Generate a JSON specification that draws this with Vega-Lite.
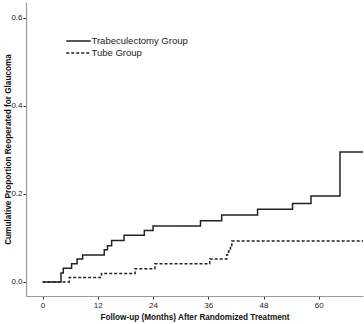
{
  "$schema": "https://vega.github.io/schema/vega-lite/v6.json",
  "width": 337,
  "height": 294,
  "autosize": {"type": "none"},
  "padding": {"left": 26, "top": 2, "right": 1, "bottom": 28},
  "background": "white",
  "config": {
    "view": {"stroke": null},
    "font": "Liberation Sans",
    "axis": {"grid": false, "domainColor": "#9a9a9a", "domainWidth": 1.2, "tickColor": "#333", "tickSize": 3, "labelFont": "Liberation Sans", "labelFontSize": 8, "labelColor": "#222", "titleFont": "Liberation Sans", "titleFontWeight": "bold", "titleFontSize": 8.2, "titleColor": "#111"}
  },
  "datasets": {
    "km": [
      {"month": 0, "prop": 0, "group": "Trabeculectomy Group"},
      {"month": 4.0, "prop": 0.02, "group": "Trabeculectomy Group"},
      {"month": 4.5, "prop": 0.031, "group": "Trabeculectomy Group"},
      {"month": 6.3, "prop": 0.041, "group": "Trabeculectomy Group"},
      {"month": 7.5, "prop": 0.052, "group": "Trabeculectomy Group"},
      {"month": 8.7, "prop": 0.061, "group": "Trabeculectomy Group"},
      {"month": 13.4, "prop": 0.073, "group": "Trabeculectomy Group"},
      {"month": 14.1, "prop": 0.082, "group": "Trabeculectomy Group"},
      {"month": 15.0, "prop": 0.094, "group": "Trabeculectomy Group"},
      {"month": 17.7, "prop": 0.106, "group": "Trabeculectomy Group"},
      {"month": 22.1, "prop": 0.117, "group": "Trabeculectomy Group"},
      {"month": 24.0, "prop": 0.127, "group": "Trabeculectomy Group"},
      {"month": 34.3, "prop": 0.139, "group": "Trabeculectomy Group"},
      {"month": 38.9, "prop": 0.152, "group": "Trabeculectomy Group"},
      {"month": 46.7, "prop": 0.165, "group": "Trabeculectomy Group"},
      {"month": 54.3, "prop": 0.178, "group": "Trabeculectomy Group"},
      {"month": 58.3, "prop": 0.195, "group": "Trabeculectomy Group"},
      {"month": 64.6, "prop": 0.295, "group": "Trabeculectomy Group"},
      {"month": 69.6, "prop": 0.295, "group": "Trabeculectomy Group"},
      {"month": 0, "prop": 0, "group": "Tube Group"},
      {"month": 5.8, "prop": 0.01, "group": "Tube Group"},
      {"month": 12.8, "prop": 0.019, "group": "Tube Group"},
      {"month": 20.1, "prop": 0.030, "group": "Tube Group"},
      {"month": 24.4, "prop": 0.041, "group": "Tube Group"},
      {"month": 36.3, "prop": 0.052, "group": "Tube Group"},
      {"month": 40.0, "prop": 0.062, "group": "Tube Group"},
      {"month": 40.4, "prop": 0.070, "group": "Tube Group"},
      {"month": 40.8, "prop": 0.078, "group": "Tube Group"},
      {"month": 41.1, "prop": 0.093, "group": "Tube Group"},
      {"month": 69.6, "prop": 0.093, "group": "Tube Group"}
    ]
  },
  "layer": [
    {
      "data": {"name": "km"},
      "mark": {"type": "line", "interpolate": "step-after", "color": "#222", "strokeWidth": 1.5},
      "encoding": {
        "x": {"field": "month", "type": "quantitative", "scale": {"domain": [-3.6, 69.6], "nice": false, "zero": false}, "axis": {"values": [0, 12, 24, 36, 48, 60], "title": "Follow-up (Months) After Randomized Treatment", "titlePadding": 4, "labelPadding": 2}},
        "y": {"field": "prop", "type": "quantitative", "scale": {"domain": [-0.032, 0.636], "nice": false, "zero": false}, "axis": {"values": [0, 0.2, 0.4, 0.6], "format": ".1f", "title": "Cumulative Proportion Reoperated for Glaucoma", "titleX": -14, "labelPadding": 1}},
        "strokeDash": {"field": "group", "type": "nominal", "scale": {"domain": ["Trabeculectomy Group", "Tube Group"], "range": [[1, 0], [3, 2]]}, "legend": {"orient": "none", "legendX": 45.5, "legendY": 32, "title": null, "padding": 0, "symbolType": "M-2,0H2", "symbolSize": 150, "symbolStrokeColor": "#222", "symbolStrokeWidth": 1.5, "labelFontSize": 9.5, "labelFont": "Liberation Sans", "labelColor": "#222", "labelOffset": 6, "rowPadding": 0}}
      }
    },
    {
      "mark": {"type": "text", "text": "p = .025", "fontSize": 9.5, "font": "Liberation Sans", "color": "#222"},
      "encoding": {"x": {"datum": 36.8}, "y": {"datum": 0.355}}
    }
  ]
}
